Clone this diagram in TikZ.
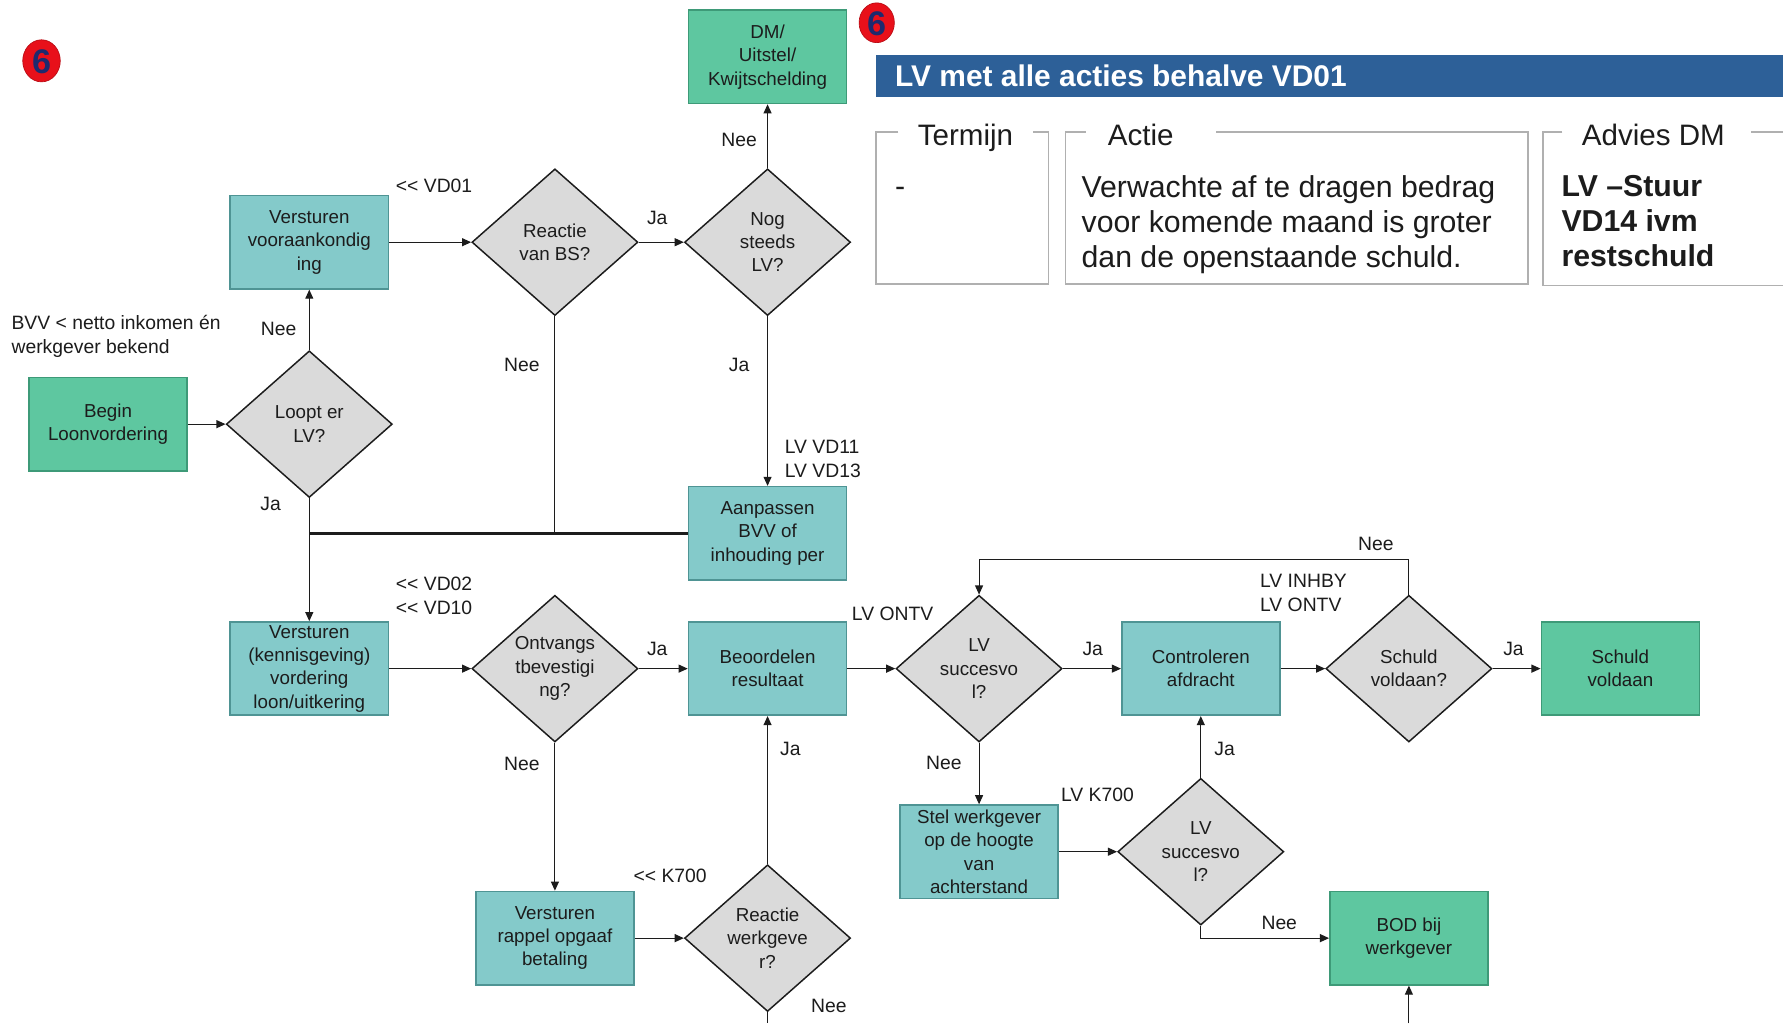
\documentclass[tikz,border=0pt]{standalone}
\usepackage{fontspec}
\setmainfont{Liberation Sans}
\usetikzlibrary{shapes.geometric,arrows.meta}
\definecolor{boxgreen}{HTML}{5EC7A0}
\definecolor{boxteal}{HTML}{84CACA}
\definecolor{greenedge}{HTML}{3E9A78}
\definecolor{tealedge}{HTML}{4F9494}
\definecolor{diafill}{HTML}{DADADA}
\definecolor{barblue}{HTML}{2D6098}
\definecolor{badgered}{HTML}{E8101A}
\definecolor{badgetext}{HTML}{1E2A6E}
\definecolor{ink}{HTML}{1C1C1C}
\definecolor{framegray}{HTML}{B0B0B0}
\begin{document}
\begin{tikzpicture}[x=1pt,y=-1pt,
  nodefont/.style={font=\fontsize{16.5}{20.5}\selectfont},
  procbox/.style={nodefont, text=ink, draw=tealedge, fill=boxteal, line width=1.4pt, minimum width=139pt, minimum height=82pt, align=center, inner sep=2pt},
  endbox/.style={procbox, draw=greenedge, fill=boxgreen},
  decide/.style={nodefont, text=ink, diamond, draw=ink, fill=diafill, line width=1.3pt, minimum width=146pt, minimum height=129pt, inner sep=0pt, align=center},
  lbl/.style={font=\fontsize{17}{21}\selectfont, text=ink, inner sep=0pt, align=left},
  flow/.style={draw=ink, line width=1pt, -{Triangle[length=8pt,width=7pt]}},
  link/.style={draw=ink, line width=1pt},
  frameline/.style={draw=framegray, line width=1.6pt},
  tabtitle/.style={font=\fontsize{26}{31}\selectfont, text=ink, inner sep=0pt},
  tabtext/.style={font=\fontsize{26.6}{31}\selectfont, text=ink, inner sep=0pt, align=left},
  badge/.style={fill=badgered, draw=badgered!80!black, line width=0.6pt},
  badgenum/.style={font=\fontsize{30}{30}\selectfont\bfseries, text=badgetext, inner sep=0pt}
]
\useasboundingbox (0,0) rectangle (1568,900);
\fill[white] (0,0) rectangle (1568,900);

% badges
\filldraw[badge] (36.5,53.5) ellipse [x radius=16.5, y radius=18.5];
\node[badgenum] (b1) at (36.5,54) {6};
\filldraw[badge] (771,20) ellipse [x radius=15.5, y radius=17.5];
\node[badgenum] (b2) at (771,20.5) {6};

% title bar
\fill[barblue] (770,48) rectangle (1568,85);
\node[font=\fontsize{26.3}{30}\selectfont\bfseries, text=white, inner sep=0pt, anchor=base west] (bartitle) at (787,76.5) {LV met alle acties behalve VD01};

% fieldset frames
\draw[frameline] (790,116) -- (770,116) -- (770,250) -- (922,250) -- (922,116) -- (908,116);
\node[tabtitle, anchor=base west] (tterm) at (807,128) {Termijn};
\node[tabtext, anchor=base west] (tdash) at (787,173) {-};
\draw[frameline] (955,116) -- (937,116) -- (937,250) -- (1344,250) -- (1344,116) -- (1069,116);
\node[tabtitle, anchor=base west] (tactie) at (974,128) {Actie};
\node[tabtext, anchor=north west] (tactietxt) at (951,154) {Verwachte af te dragen bedrag\\voor komende maand is groter\\dan de openstaande schuld.};
\draw[frameline] (1374,116) -- (1357,116) -- (1357,251) -- (1568,251);
\draw[frameline] (1540,116) -- (1568,116);
\node[tabtitle, anchor=base west] (tadv) at (1391,128) {Advies DM};
\node[tabtext, anchor=north west, font=\fontsize{26.6}{31}\selectfont\bfseries] (tadvtxt) at (1373,154) {LV –Stuur\\VD14 ivm\\restschuld};

% flowchart nodes
\node[endbox] (dm) at (675,50) {DM/\\Uitstel/\\Kwijtschelding};
\node[procbox] (voor) at (272,213) {Versturen\\vooraankondig\\ing};
\node[decide] (reactbs) at (488,213) {Reactie\\van BS?};
\node[decide] (nog) at (675,213) {Nog\\steeds\\LV?};
\node[endbox] (begin) at (95,373) {Begin\\Loonvordering};
\node[decide] (loopt) at (272,373) {Loopt er\\LV?};
\node[procbox] (aanp) at (675,469) {Aanpassen\\BVV of\\inhouding per};
\node[procbox] (kennis) at (272,588) {Versturen\\(kennisgeving)\\vordering\\loon/uitkering};
\node[decide] (ontv) at (488,588) {Ontvangs\\tbevestigi\\ng?};
\node[procbox] (beoord) at (675,588) {Beoordelen\\resultaat};
\node[decide] (succ1) at (861,588) {LV\\succesvo\\l?};
\node[procbox] (contr) at (1056,588) {Controleren\\afdracht};
\node[decide] (schuldq) at (1239,588) {Schuld\\voldaan?};
\node[endbox] (schuld) at (1425,588) {Schuld\\voldaan};
\node[procbox] (stel) at (861,749) {Stel werkgever\\op de hoogte\\van\\achterstand};
\node[decide] (succ2) at (1056,749) {LV\\succesvo\\l?};
\node[endbox] (bod) at (1239,825) {BOD bij\\werkgever};
\node[procbox] (rappel) at (488,825) {Versturen\\rappel opgaaf\\betaling};
\node[decide] (reactwg) at (675,825) {Reactie\\werkgeve\\r?};

\coordinate (wgout) at (675,900);
\coordinate (bodin) at (1239,900);

% connectors
\draw[flow] (begin) -- (loopt);
\draw[flow] (loopt.north) -- (voor.south);
\draw[flow] (voor) -- (reactbs);
\draw[flow] (reactbs) -- (nog);
\draw[flow] (nog.north) -- (dm.south);
\draw[flow] (nog.south) -- (aanp.north);
\draw[draw=ink, line width=2.2pt] (aanp.west) -- (aanp.west -| loopt.south);
\draw[link] (reactbs.south) -- (reactbs.south |- aanp.west);
\draw[flow] (loopt.south) -- (kennis.north);
\draw[flow] (kennis) -- (ontv);
\draw[flow] (ontv) -- (beoord);
\draw[flow] (ontv.south) -- (rappel.north);
\draw[flow] (rappel) -- (reactwg);
\draw[flow] (reactwg.north) -- (beoord.south);
\draw[link] (reactwg.south) -- (wgout);
\draw[flow] (beoord) -- (succ1);
\draw[flow] (succ1) -- (contr);
\draw[flow] (succ1.south) -- (stel.north);
\draw[flow] (contr) -- (schuldq);
\draw[flow] (schuldq) -- (schuld);
\draw[flow] (schuldq.north) -- ++(0,-31) -| (succ1.north);
\draw[flow] (stel) -- (succ2);
\draw[flow] (succ2.north) -- (contr.south);
\draw[flow] (succ2.south) |- (bod.west);
\draw[flow] (bodin) -- (bod.south);

% labels
\node[lbl, anchor=west] (l1) at (348,163) {<{}< VD01};
\node[lbl] (l2) at (578,192) {Ja};
\node[lbl] (l3) at (650,123) {Nee};
\node[lbl] (l4) at (245,289) {Nee};
\node[lbl, anchor=north west] (l5) at (10,277) {BVV < netto inkomen én\\werkgever bekend};
\node[lbl] (l6) at (459,321) {Nee};
\node[lbl] (l7) at (650,321) {Ja};
\node[lbl, anchor=north west] (l8) at (690,387) {LV VD11\\LV VD13};
\node[lbl] (l9) at (238,443) {Ja};
\node[lbl, anchor=north west] (l10) at (348,507) {<{}< VD02\\<{}< VD10};
\node[lbl, anchor=west] (l11) at (749,540) {LV ONTV};
\node[lbl] (l12) at (578,571) {Ja};
\node[lbl] (l13) at (961,571) {Ja};
\node[lbl] (l14) at (1210,478) {Nee};
\node[lbl, anchor=north west] (l15) at (1108,505) {LV INHBY\\LV ONTV};
\node[lbl] (l16) at (1331,571) {Ja};
\node[lbl] (l17) at (459,672) {Nee};
\node[lbl] (l18) at (830,671) {Nee};
\node[lbl] (l19) at (695,659) {Ja};
\node[lbl] (l20) at (1077,659) {Ja};
\node[lbl, anchor=west] (l21) at (933,699) {LV K700};
\node[lbl, anchor=west] (l22) at (557,770) {<{}< K700};
\node[lbl] (l23) at (1125,812) {Nee};
\node[lbl] (l24) at (729,885) {Nee};
\end{tikzpicture}
\end{document}
